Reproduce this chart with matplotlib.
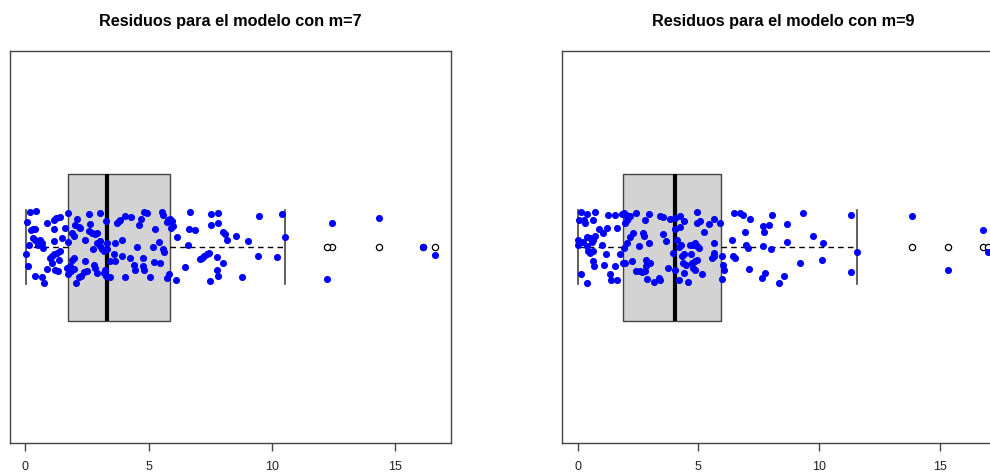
import numpy as np
import matplotlib
matplotlib.use("Agg")
from matplotlib import pyplot as plt

plt.rcParams['font.family'] = ['Liberation Sans', 'DejaVu Sans']

# residuos del modelo con m=7 y su desplazamiento vertical (jitter)
res_m7 = [0.18, 0.45, 0.07, 0.31, 0.40, 0.23, 0.31, 0.38, 0.47, 0.58,
          0.67, 0.51, 0.72, 0.13, 0.04, 0.09, 0.40, 0.67, 0.74, 0.88,
          1.15, 1.26, 1.39, 1.17, 1.17, 1.48, 1.62, 1.75, 1.75, 0.99,
          1.08, 1.17, 1.28, 1.42, 1.35, 1.08, 1.19, 1.31, 0.88, 1.69,
          1.82, 1.89, 1.96, 1.85, 1.75, 1.96, 2.06, 2.16, 2.25, 2.36,
          2.50, 2.09, 2.16, 2.02, 2.23, 1.89, 1.96, 2.43, 2.60, 2.63,
          2.60, 2.70, 2.83, 2.90, 2.74, 2.90, 3.01, 3.04, 3.10, 3.20,
          3.31, 3.04, 3.28, 3.33, 3.64, 3.44, 3.64, 3.58, 3.25, 3.17,
          3.28, 3.44, 2.40, 2.77, 2.83, 2.90, 3.91, 3.91, 4.05, 3.71,
          3.78, 3.85, 4.05, 4.28, 4.59, 4.70, 4.82, 4.95, 5.26, 4.52,
          4.25, 4.39, 4.45, 4.76, 4.79, 4.82, 5.06, 5.17, 5.22, 5.44,
          5.47, 5.53, 5.57, 5.74, 5.80, 5.87, 5.94, 5.60, 5.63, 5.90,
          5.98, 6.17, 5.76, 5.84, 6.11, 6.49, 6.61, 6.68, 6.65, 6.88,
          7.09, 7.15, 7.25, 7.35, 7.46, 7.52, 7.52, 7.83, 7.80, 7.76,
          7.76, 7.83, 7.49, 8.03, 8.10, 8.19, 8.03, 8.54, 8.77, 9.04,
          9.49, 10.39, 10.55, 9.45, 10.19, 12.42, 12.24, 14.35, 16.13, 16.60]
jit_m7 = [0.089, 0.093, 0.064, 0.045, 0.046, 0.043, 0.023, 0.017, 0.015, 0.017,
          0.011, 0.006, -0.002, 0.004, -0.017, -0.049, -0.075, -0.077, -0.092, 0.062,
          0.070, 0.074, 0.077, 0.046, 0.015, 0.023, 0.049, 0.087, 0.012, -0.028,
          -0.023, -0.019, -0.015, -0.011, -0.032, -0.040, -0.058, -0.062, -0.055, -0.053,
          -0.049, -0.032, -0.028, -0.062, -0.070, -0.055, -0.092, -0.076, -0.073, -0.064,
          -0.062, 0.072, 0.052, 0.055, 0.049, 0.036, 0.028, 0.017, 0.085, 0.058,
          0.040, 0.036, 0.032, 0.036, -0.005, 0.011, 0.015, 0.002, -0.006, -0.011,
          -0.006, 0.087, 0.066, 0.011, 0.009, -0.036, -0.036, -0.019, -0.058, -0.066,
          -0.075, -0.076, -0.036, -0.045, -0.053, -0.066, 0.017, -0.023, -0.077, 0.062,
          0.066, 0.070, 0.079, 0.076, 0.056, 0.072, 0.089, 0.087, 0.046, 0.000,
          -0.028, -0.045, -0.058, -0.028, -0.049, -0.058, -0.076, 0.000, -0.039, 0.012,
          -0.042, 0.089, 0.081, 0.064, 0.068, 0.072, 0.066, -0.006, -0.012, 0.049,
          0.053, 0.026, -0.079, -0.070, -0.083, -0.052, 0.004, 0.089, 0.046, 0.043,
          -0.030, -0.028, -0.023, -0.019, -0.015, 0.083, 0.055, 0.087, 0.062, -0.025,
          -0.058, -0.075, -0.087, 0.038, 0.032, 0.017, -0.042, 0.029, -0.077, 0.015,
          0.079, 0.085, 0.026, -0.022, -0.026, 0.061, -0.081, 0.073, 0.000, -0.020]

# residuos del modelo con m=9
res_m9 = [0.12, 0.37, 0.70, 0.07, 0.26, 0.30, 0.62, 0.03, 0.21, 0.37,
          0.51, 0.65, 0.72, 0.58, 0.37, 0.03, 0.44, 0.65, 0.51, 0.62,
          0.68, 0.14, 0.37, 0.90, 1.06, 1.20, 0.99, 1.17, 1.11, 1.34,
          1.37, 1.64, 1.55, 1.27, 1.55, 1.64, 1.82, 1.92, 2.00, 2.10,
          2.17, 2.03, 1.96, 2.42, 2.97, 2.79, 2.28, 2.17, 2.03, 1.92,
          1.76, 1.87, 1.96, 2.24, 2.56, 2.70, 2.75, 2.96, 2.81, 2.89,
          3.00, 2.83, 2.79, 2.42, 2.58, 2.65, 2.86, 3.14, 3.37, 3.41,
          3.39, 3.55, 3.83, 4.04, 4.24, 4.41, 4.22, 4.04, 3.66, 3.53,
          3.72, 3.94, 4.04, 4.18, 4.13, 4.27, 4.18, 4.41, 4.31, 4.35,
          4.49, 4.41, 4.55, 4.66, 4.77, 4.87, 4.94, 5.01, 4.69, 4.73,
          4.77, 4.87, 4.96, 4.87, 4.94, 5.07, 4.94, 5.24, 5.42, 5.66,
          5.90, 5.66, 5.56, 5.63, 5.66, 5.14, 5.97, 6.02, 6.04, 5.97,
          6.46, 6.71, 6.84, 7.15, 6.94, 6.43, 6.53, 7.08, 6.39, 6.98,
          7.04, 7.67, 7.70, 7.91, 7.67, 8.02, 8.06, 8.32, 7.63, 7.74,
          8.53, 9.34, 8.67, 8.67, 9.22, 9.75, 10.12, 10.17, 11.33, 11.30,
          11.58, 13.86, 15.31, 16.76, 16.97]
jit_m9 = [0.090, 0.085, 0.090, 0.070, 0.069, 0.060, 0.069, 0.019, 0.012, 0.025,
          0.023, 0.019, 0.028, 0.012, 0.002, 0.004, -0.011, -0.011, -0.015, -0.036,
          -0.049, -0.069, -0.092, 0.045, 0.036, 0.049, 0.006, -0.017, -0.047, -0.068,
          -0.085, -0.083, -0.049, 0.081, 0.081, 0.049, 0.083, 0.087, 0.081, 0.075,
          0.079, 0.069, 0.062, 0.087, 0.083, 0.069, 0.036, 0.026, 0.011, -0.002,
          -0.017, -0.040, -0.042, -0.035, 0.002, 0.035, 0.028, 0.009, -0.032, -0.042,
          -0.040, -0.049, -0.062, -0.062, -0.062, -0.064, -0.081, -0.090, -0.079, -0.085,
          0.079, 0.077, 0.072, 0.075, 0.079, 0.066, 0.052, 0.045, 0.015, 0.032,
          -0.053, -0.015, -0.058, -0.083, 0.017, 0.006, 0.000, -0.017, -0.023, -0.042,
          -0.046, -0.066, -0.090, 0.004, 0.006, 0.009, 0.002, -0.002, -0.019, -0.042,
          -0.053, -0.036, -0.034, -0.058, 0.062, 0.066, 0.090, 0.038, 0.059, 0.072,
          0.060, 0.009, -0.028, -0.015, -0.022, -0.068, -0.023, -0.045, -0.058, -0.081,
          0.087, 0.086, 0.081, 0.072, 0.038, -0.023, -0.029, -0.055, 0.017, 0.006,
          -0.002, 0.053, 0.038, 0.056, 0.002, -0.005, 0.081, -0.092, -0.079, -0.066,
          -0.075, 0.087, 0.059, 0.012, -0.042, 0.029, -0.032, 0.009, 0.081, -0.063,
          -0.013, 0.079, -0.058, 0.043, -0.012]

titles = ["Residuos para el modelo con m=7", "Residuos para el modelo con m=9"]
ticks = [0, 5, 10, 15]

fig = plt.figure(figsize=(9.9, 4.74), dpi=100)
ax1 = fig.add_axes([10 / 990, 31 / 474, 441 / 990, 392 / 474])
ax2 = fig.add_axes([562 / 990, 31 / 474, 442 / 990, 392 / 474])


def residual_box(ax, res, jit, title):
    res = np.array(res)
    ax.boxplot(res, orientation='horizontal', positions=[1], widths=0.375,
               patch_artist=True, whis=1.5,
               boxprops=dict(facecolor='#d3d3d3', edgecolor='#444444', linewidth=1),
               medianprops=dict(color='black', linewidth=3),
               whiskerprops=dict(color='black', linestyle=(0, (4, 3)), linewidth=1),
               capprops=dict(color='#444444', linewidth=1.2),
               flierprops=dict(marker='o', markerfacecolor='white',
                               markeredgecolor='black', markersize=4.5,
                               markeredgewidth=0.9))
    # stripchart encima, con jitter vertical
    ax.scatter(res, 1 + np.array(jit), s=26, color='blue', zorder=5,
               linewidths=0)
    rng = res.max() - res.min()
    ax.set_xlim(res.min() - 0.04 * rng, res.max() + 0.04 * rng)
    ax.set_ylim(0.5, 1.5)
    ax.set_yticks([])
    ax.set_xticks(ticks)
    ax.set_xticklabels([str(t) for t in ticks])
    ax.tick_params(axis='x', direction='out', length=6, width=1,
                   color='#444444', labelsize=9, pad=7, labelcolor='#222222')
    for sp in ax.spines.values():
        sp.set_color('#444444')
        sp.set_linewidth(1)
    ax.text(0.5, 1.076, title, transform=ax.transAxes, ha='center',
            va='center', fontsize=11.7, fontweight='bold')


residual_box(ax1, res_m7, jit_m7, titles[0])
residual_box(ax2, res_m9, jit_m9, titles[1])

fig.savefig("out.png", dpi=100)
